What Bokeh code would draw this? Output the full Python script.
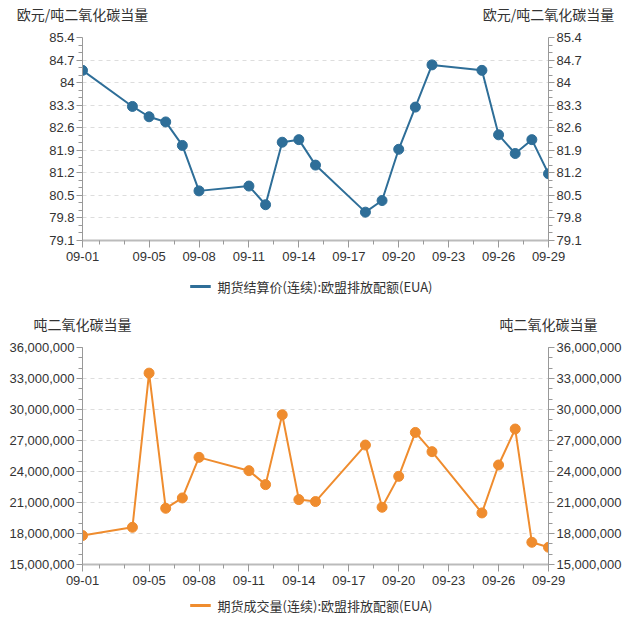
import datetime as dt
from bokeh.plotting import figure
from bokeh.models import (LinearAxis, FixedTicker, DatetimeTickFormatter, CustomJSTickFormatter,
                          NumeralTickFormatter, Range1d, ColumnDataSource)
from bokeh.layouts import column
from bokeh.embed import file_html
from bokeh.resources import INLINE
from bokeh.core.properties import value

dates = ["09-01", "09-04", "09-05", "09-06", "09-07", "09-08", "09-11", "09-12", "09-13",
         "09-14", "09-15", "09-18", "09-19", "09-20", "09-21", "09-22", "09-25", "09-26",
         "09-27", "09-28", "09-29"]
price = [84.38, 83.26, 82.94, 82.78, 82.05, 80.64, 80.79, 80.21, 82.15, 82.23, 81.44,
         79.98, 80.34, 81.93, 83.24, 84.55, 84.38, 82.38, 81.80, 82.23, 81.17]
volume = [17800000, 18600000, 33520000, 20440000, 21440000, 25370000, 24080000, 22730000,
          29490000, 21280000, 21090000, 26560000, 20540000, 23530000, 27780000, 25920000,
          19990000, 24630000, 28110000, 17150000, 16670000]
x_tick_labels = ["09-01", "09-05", "09-08", "09-11", "09-14", "09-17", "09-20", "09-23", "09-26", "09-29"]
price_ticks = [79.1, 79.8, 80.5, 81.2, 81.9, 82.6, 83.3, 84.0, 84.7, 85.4]
volume_ticks = [15e6, 18e6, 21e6, 24e6, 27e6, 30e6, 33e6, 36e6]
price_unit = "欧元/吨二氧化碳当量"
volume_unit = "吨二氧化碳当量"
price_name = "期货结算价(连续):欧盟排放配额(EUA)"
volume_name = "期货成交量(连续):欧盟排放配额(EUA)"

YEAR = 2023
def to_dt(s):
    m, d = s.split("-")
    return dt.datetime(YEAR, int(m), int(d))

def ms(d):
    return (d - dt.datetime(1970, 1, 1)).total_seconds() * 1000.0

xs = [ms(to_dt(s)) for s in dates]
x0 = ms(to_dt("09-01"))
x1 = ms(to_dt("09-29"))
DAY = 86400000.0
major_x = [ms(to_dt(s)) for s in x_tick_labels]
minor_x = [x0 + DAY * (1 + 1.5 * k) for k in range(0, 19) if x0 + DAY * (1 + 1.5 * k) <= x1]

FONT = "Liberation Sans"
CJK = "Noto Sans CJK SC"
TXT = "#333333"
AXIS = "#999999"
W = 624
LEFT, RIGHT = 82, 66

def make(values, yticks, color, unit, height, top, bottom, fmt):
    lo, hi = yticks[0], yticks[-1]
    step = yticks[1] - yticks[0]
    minors = [lo + step * k / 3.0 for k in range(0, 3 * (len(yticks) - 1) + 1)]
    p = figure(width=W, height=height, x_axis_type="datetime", output_backend="svg",
               toolbar_location=None, x_range=Range1d(x0, x1), y_range=Range1d(lo, hi),
               min_border_left=LEFT, min_border_right=RIGHT, min_border_top=top,
               min_border_bottom=bottom)
    p.outline_line_color = None
    p.xgrid.visible = False
    p.ygrid.grid_line_color = "#dddddd"
    p.ygrid.grid_line_dash = "4 4"
    p.ygrid.ticker = FixedTicker(ticks=yticks)
    src = ColumnDataSource(dict(x=xs, y=values))
    p.line("x", "y", source=src, line_color=color, line_width=2)
    p.scatter("x", "y", source=src, size=10, fill_color=color, line_color=color)
    ra = LinearAxis()
    p.add_layout(ra, "right")
    for ax in (p.yaxis[0], ra):
        ax.ticker = FixedTicker(ticks=yticks, minor_ticks=minors)
        ax.formatter = NumeralTickFormatter(format=fmt)
        ax.axis_line_color = AXIS
        ax.major_tick_line_color = AXIS
        ax.minor_tick_line_color = AXIS
        ax.major_tick_out = 6
        ax.major_tick_in = 0
        ax.minor_tick_out = 4
        ax.minor_tick_in = 0
        ax.major_label_text_font = FONT
        ax.major_label_text_font_size = "13px"
        ax.major_label_text_color = TXT
        ax.major_label_standoff = 2
    xa = p.xaxis[0]
    xa.ticker = FixedTicker(ticks=major_x, minor_ticks=minor_x)
    xa.formatter = DatetimeTickFormatter(days="%m-%d", months="%m-%d", hours="%m-%d",
                                         years="%m-%d")
    xa.axis_line_color = "#bbbbbb"
    xa.axis_line_width = 2
    xa.major_tick_line_color = AXIS
    xa.minor_tick_line_color = AXIS
    xa.major_tick_out = 7
    xa.major_tick_in = 0
    xa.minor_tick_out = 4
    xa.minor_tick_in = 0
    xa.major_label_text_font = FONT
    xa.major_label_text_font_size = "13px"
    xa.major_label_text_color = TXT
    xa.major_label_standoff = 4
    # unit labels above the two y axes, drawn as the tick labels of an "above" axis
    ua = LinearAxis(ticker=FixedTicker(ticks=[x0, x1], minor_ticks=[]),
                    formatter=CustomJSTickFormatter(args=dict(u=unit), code="return u"))
    ua.axis_line_color = None
    ua.major_tick_line_color = None
    ua.minor_tick_line_color = None
    ua.major_tick_out = 0
    ua.major_tick_in = 0
    ua.major_label_standoff = 14
    ua.major_label_text_font = CJK
    ua.major_label_text_font_size = "14px"
    ua.major_label_text_color = TXT
    p.add_layout(ua, "above")
    return p

def legend_fig(color, name, height):
    f = figure(width=W, height=height, output_backend="svg", toolbar_location=None,
               x_range=Range1d(LEFT, W - RIGHT), y_range=Range1d(0, height),
               min_border_left=LEFT, min_border_right=RIGHT, min_border_top=0,
               min_border_bottom=0)
    f.axis.visible = False
    f.grid.visible = False
    f.outline_line_color = None
    mid = height / 2.0
    f.line([192, 213], [mid, mid], line_color=color, line_width=3)
    f.text(x=[220], y=[mid], text=[name], text_font=value(CJK), text_font_size="13px",
           text_color=TXT, text_align="left", text_baseline="middle")
    return f

p1 = make(price, price_ticks, "#2e6e98", price_unit, 272, 32, 32, "0.[0]")
l1 = legend_fig("#2e6e98", price_name, 28)
p2 = make(volume, volume_ticks, "#ef8c2e", volume_unit, 294, 47, 30, "0,0")
l2 = legend_fig("#ef8c2e", volume_name, 22)
layout = column(p1, l1, p2, l2, spacing=0)
open("out.html", "w").write(file_html(layout, INLINE))
